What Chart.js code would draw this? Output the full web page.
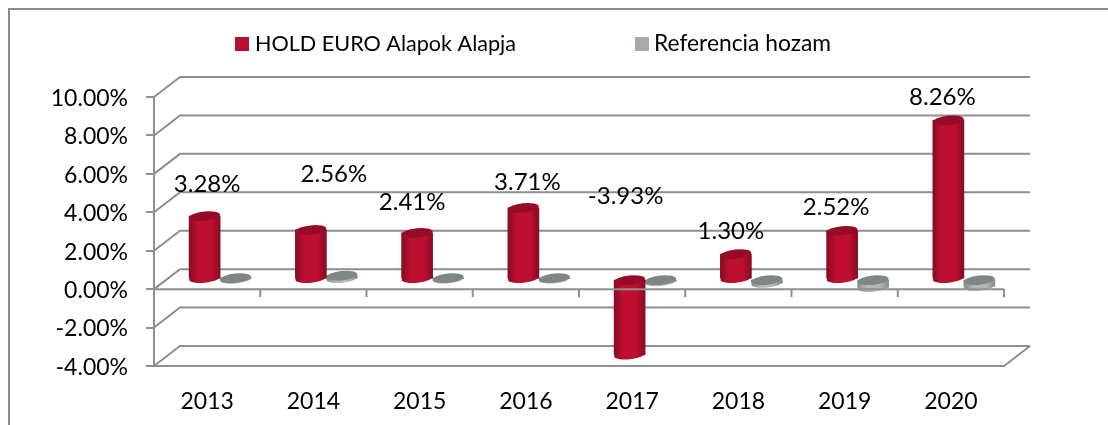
<!DOCTYPE html>
<html>
<head>
<meta charset="utf-8">
<style>
html,body{margin:0;padding:0;background:#fff;}
#wrap{position:relative;width:1108px;height:425px;overflow:hidden;}
canvas{display:block;}
</style>
<script src="https://cdn.jsdelivr.net/npm/chart.js@4"></script>
</head>
<body>
<div id="wrap"><canvas id="c" width="1108" height="425"></canvas></div>
<script>
const categories = ['2013','2014','2015','2016','2017','2018','2019','2020'];
const holdLabel = 'HOLD EURO Alapok Alapja';
const refLabel = 'Referencia hozam';
const holdValues = [3.28, 2.56, 2.41, 3.71, -3.93, 1.30, 2.52, 8.26];
const refValues = [0.01, 0.18, 0.02, 0.02, -0.12, -0.2, -0.42, -0.36];
const labelOffsetX = [2.5, 23, -5, 4, -4, -5, -6, -6];
const labelOffsetY = [-32, -56, -31, -26, -158, -23, -23, -23];

const FONT = 'Lato, "Open Sans", sans-serif';
const INK = '#000';
const GRID = '#8f8f8f';
const DEPTH_X = 26, DEPTH_Y = 20;
const palette = [
  {edge:'#860b23', mid:'#bf0f31', top:'#960c27', legend:'#b70f2e'},
  {edge:'#858a8a', mid:'#b4b8b8', top:'#7f8686', legend:'#a6abab'}
];
const RY = 4.6, TILT = -0.1;

function ellipse(ctx, x, y, rx){
  ctx.beginPath();
  ctx.ellipse(x, y, rx, RY, TILT, 0, Math.PI*2);
  ctx.fill();
}

const scene = {
  id:'scene',
  beforeDraw(chart){
    const {ctx, scales:{x, y}} = chart;
    const L = x.left, R = x.right;
    ctx.save();
    ctx.fillStyle='#fff';
    ctx.fillRect(0,0,chart.width,chart.height);
    // outer frame: left and top edges only, running off the picture
    ctx.strokeStyle='#8c8c8c'; ctx.lineWidth=2;
    ctx.beginPath();
    ctx.moveTo(9,chart.height); ctx.lineTo(9,9); ctx.lineTo(chart.width,9);
    ctx.stroke();
    ctx.strokeStyle=GRID; ctx.lineWidth=2;
    // back wall lines and left wall diagonals
    y.ticks.forEach(t=>{
      const py = y.getPixelForValue(t.value);
      ctx.beginPath();
      ctx.moveTo(L,py);
      ctx.lineTo(L+DEPTH_X,py-DEPTH_Y);
      ctx.lineTo(R+DEPTH_X,py-DEPTH_Y);
      ctx.stroke();
    });
    // floor
    const fy = y.getPixelForValue(y.min);
    ctx.beginPath();
    ctx.moveTo(L,fy); ctx.lineTo(R,fy); ctx.lineTo(R+DEPTH_X,fy-DEPTH_Y);
    ctx.stroke();
    // legend
    const items=[{i:0,x:235,tx:255,size:21.6},{i:1,x:635,tx:654,size:22.8}];
    ctx.textBaseline='middle'; ctx.textAlign='left';
    items.forEach(it=>{
      ctx.fillStyle=palette[it.i].legend;
      ctx.fillRect(it.x,37,14,14);
      ctx.fillStyle=INK;
      ctx.font=it.size+'px '+FONT;
      ctx.fillText(chart.data.datasets[it.i].label,it.tx,44);
    });
    ctx.restore();
  },
  beforeDatasetsDraw(chart){
    const {ctx} = chart;
    ctx.save();
    ctx.translate(DEPTH_X/2,-DEPTH_Y/2);
  },
  beforeDatasetDraw(chart,args){
    const {ctx}=chart, p=palette[args.index];
    args.meta.data.forEach(el=>{
      const lo=Math.max(el.y,el.base), g=ctx.createLinearGradient(el.x-el.width/2,0,el.x+el.width/2,0);
      g.addColorStop(0,p.edge); g.addColorStop(.3,p.mid); g.addColorStop(.72,p.mid); g.addColorStop(1,p.edge);
      el.options=Object.assign({},el.options,{backgroundColor:g,borderWidth:0});
      ctx.fillStyle=g;
      ellipse(ctx,el.x,lo,el.width/2);
    });
  },
  afterDatasetDraw(chart,args){
    const {ctx}=chart, p=palette[args.index];
    args.meta.data.forEach(el=>{
      ctx.fillStyle=p.top;
      ellipse(ctx,el.x,Math.min(el.y,el.base),el.width/2);
    });
  },
  afterDatasetsDraw(chart){
    const {ctx, scales:{x, y}}=chart;
    ctx.restore();
    // zero plane front edge with ticks, over the bars
    const zy = y.getPixelForValue(0);
    ctx.save();
    ctx.strokeStyle=GRID; ctx.lineWidth=2;
    ctx.beginPath(); ctx.moveTo(x.left,zy); ctx.lineTo(x.right,zy); ctx.stroke();
    const n=categories.length, step=(x.right-x.left)/n;
    for(let i=0;i<=n;i++){
      const px=x.getPixelForValue(i)-step/2;
      ctx.beginPath(); ctx.moveTo(px,zy); ctx.lineTo(px,zy+8); ctx.stroke();
    }
    ctx.font='24px '+FONT; ctx.fillStyle=INK;
    ctx.textAlign='center'; ctx.textBaseline='middle';
    chart.getDatasetMeta(0).data.forEach((el,i)=>{
      ctx.fillText(holdValues[i].toFixed(2)+'%', el.x+DEPTH_X/2+labelOffsetX[i], el.y-DEPTH_Y/2+labelOffsetY[i]);
    });
    ctx.restore();
  }
};

new Chart(document.getElementById('c'),{
  type:'bar',
  data:{labels:categories,datasets:[
    {label:holdLabel,data:holdValues,backgroundColor:palette[0].legend,barThickness:31,clip:false,borderWidth:0},
    {label:refLabel,data:refValues,backgroundColor:palette[1].legend,barThickness:31,clip:false,borderWidth:0}
  ]},
  plugins:[scene],
  options:{
    responsive:false,animation:false,
    layout:{padding:{top:97,right:104,left:0,bottom:0}},
    plugins:{legend:{display:false},tooltip:{enabled:false},title:{display:false}},
    scales:{
      x:{
        grid:{display:false},border:{display:false},
        ticks:{color:INK,font:{family:FONT,size:23},padding:14,maxRotation:0},
        afterFit(s){s.height=59;}
      },
      y:{
        min:-4,max:10,
        grid:{drawOnChartArea:false,color:GRID,lineWidth:2,tickLength:8},
        border:{color:GRID,width:2},
        ticks:{stepSize:2,color:INK,font:{family:FONT,size:23},padding:18,labelOffset:1.5,callback:v=>v.toFixed(2)+'%'},
        afterFit(s){s.width=154;}
      }
    }
  }
});
</script>
</body>
</html>
